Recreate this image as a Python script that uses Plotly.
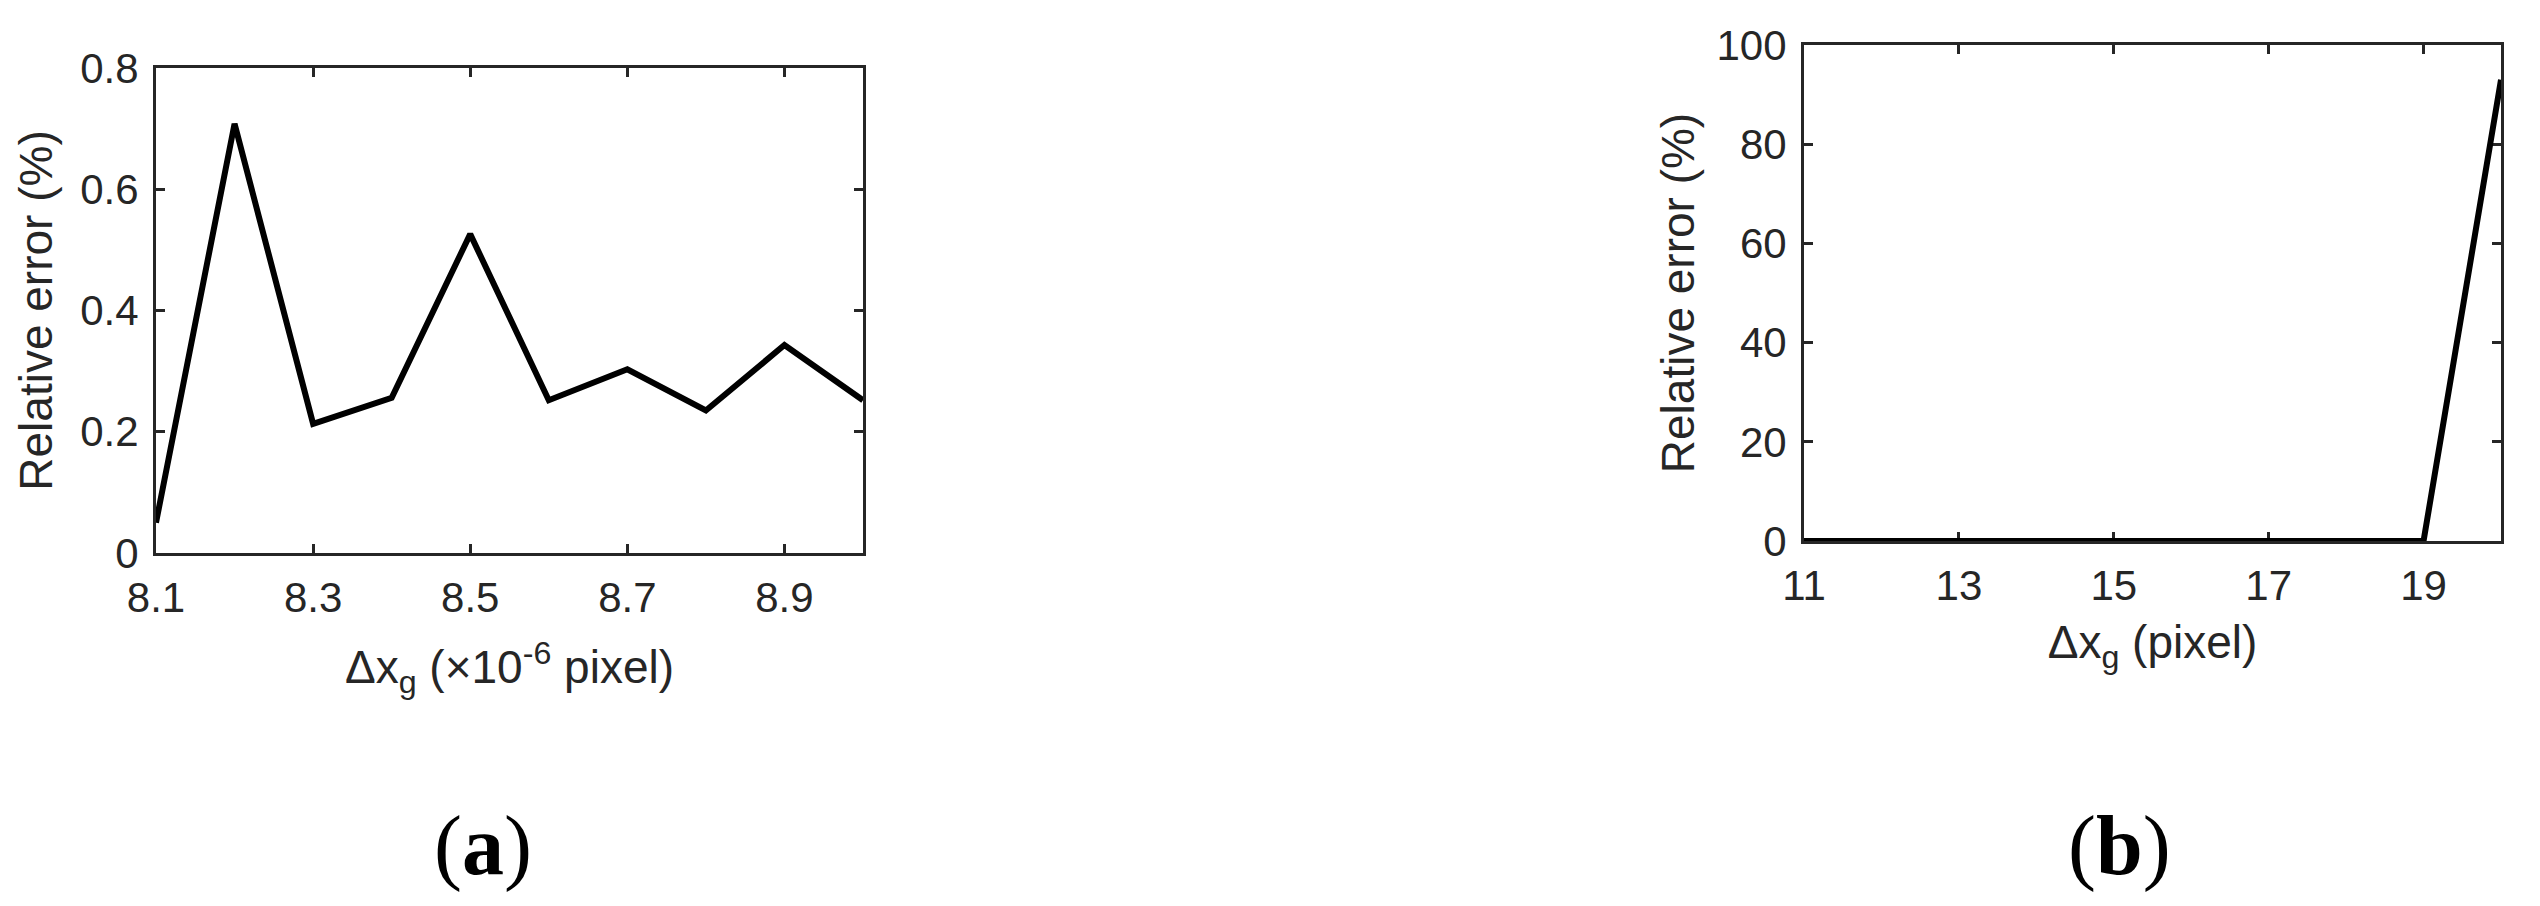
import plotly.graph_objects as go

# (a) sub-pixel shift
shift_a = [8.1, 8.2, 8.3, 8.4, 8.5, 8.6, 8.7, 8.8, 8.9, 9.0]
err_a = [0.05, 0.708, 0.213, 0.256, 0.526, 0.252, 0.303, 0.235, 0.343, 0.252]
ticks_a = [8.1, 8.3, 8.5, 8.7, 8.9]
yticks_a = [0, 0.2, 0.4, 0.6, 0.8]

# (b) integer-pixel shift
shift_b = [11, 12, 13, 14, 15, 16, 17, 18, 19, 20]
err_b = [0, 0, 0, 0, 0, 0, 0, 0, 0, 93]
ticks_b = [11, 13, 15, 17, 19]
yticks_b = [0, 20, 40, 60, 80, 100]

AXIS_COLOR = '#262626'
TICK_FONT = dict(family='Liberation Sans, Arial, sans-serif', size=42, color=AXIS_COLOR)
TITLE_FONT = dict(family='Liberation Sans, Arial, sans-serif', size=46, color=AXIS_COLOR)
LABEL_FONT = dict(family='Liberation Serif, Times New Roman, serif', size=84, color='black')

# page body has an 8px margin, so size the figure to the window minus that
OFF = 8
W, H = 2540 - 2 * OFF, 906 - 2 * OFF


def px_x(v):
    return (v - OFF) / W


def px_y(v):
    return 1 - (v - OFF) / H


fig = go.Figure()

fig.add_trace(go.Scatter(
    x=shift_a, y=err_a, mode='lines',
    line=dict(color='black', width=6),
    xaxis='x', yaxis='y', showlegend=False
))
fig.add_trace(go.Scatter(
    x=shift_b, y=err_b, mode='lines',
    line=dict(color='black', width=6),
    xaxis='x2', yaxis='y2', showlegend=False
))


def axis_style(**kw):
    base = dict(
        showline=True, linecolor=AXIS_COLOR, linewidth=3, mirror='allticks',
        ticks='inside', ticklen=9, tickwidth=3, tickcolor=AXIS_COLOR,
        showgrid=False, zeroline=False, tickfont=TICK_FONT,
        layer='below traces', automargin=False,
    )
    base.update(kw)
    return base


fig.update_layout(
    width=W, height=H,
    margin=dict(l=0, r=0, t=0, b=0),
    paper_bgcolor='white',
    plot_bgcolor='white',
    xaxis=axis_style(
        domain=[px_x(156), px_x(863)], range=[8.1, 9.0],
        tickvals=ticks_a, ticktext=[f"{v:.1f}" for v in ticks_a],
        ticklabelstandoff=6,
        title=dict(text='Δx<sub>g</sub> (×10<sup>-6</sup> pixel)', font=TITLE_FONT, standoff=31),
        anchor='y',
    ),
    yaxis=axis_style(
        domain=[px_y(553), px_y(68)], range=[0, 0.8],
        tickvals=yticks_a, ticktext=['0', '0.2', '0.4', '0.6', '0.8'],
        ticklabelstandoff=6,
        title=dict(text='Relative error (%)', font=TITLE_FONT, standoff=14),
        anchor='x',
    ),
    xaxis2=axis_style(
        domain=[px_x(1804), px_x(2501)], range=[11, 20],
        tickvals=ticks_b,
        ticklabelstandoff=6,
        title=dict(text='Δx<sub>g</sub> (pixel)', font=TITLE_FONT, standoff=18),
        anchor='y2',
    ),
    yaxis2=axis_style(
        domain=[px_y(541), px_y(45)], range=[0, 100],
        tickvals=yticks_b,
        ticklabelstandoff=6,
        title=dict(text='Relative error (%)', font=TITLE_FONT, standoff=8),
        anchor='x2',
    ),
    annotations=[
        dict(text='(<b>a</b>)', x=px_x(483), y=px_y(846), xref='paper', yref='paper',
             xanchor='center', yanchor='middle', showarrow=False, font=LABEL_FONT),
        dict(text='(<b>b</b>)', x=px_x(2119), y=px_y(846), xref='paper', yref='paper',
             xanchor='center', yanchor='middle', showarrow=False, font=LABEL_FONT),
    ],
)

fig.write_html("out.html")
